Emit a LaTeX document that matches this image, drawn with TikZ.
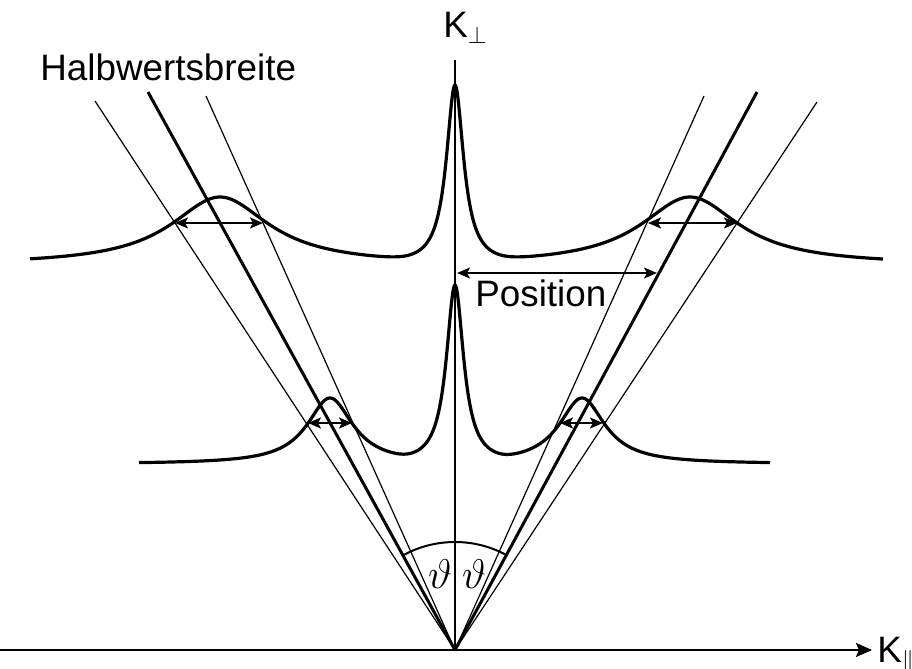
\documentclass[tikz,border=0pt]{standalone}
\usepackage{fontspec}
\setmainfont{Liberation Sans}
\usetikzlibrary{arrows.meta}
\begin{document}
\begin{tikzpicture}[x=0.5pt,y=-0.5pt,
  declare function={
    ua(\x)=18/(1+((\x-455)/10.5)^2);
    ub(\x)=6.8/(1+((\x-220)/60)^2);
    uc(\x)=6.8/(1+((\x-690)/60)^2);
    la(\x)=17.9/(1+((\x-455)/10.5)^2);
    lb(\x)=6.6/(1+((\x-330)/28)^2);
    lc(\x)=6.6/(1+((\x-582)/28)^2);
    up(\x)=265 - 10*(ua(\x)^3 + ub(\x)^3 + uc(\x)^3)^(1/3);
    lo(\x)=464 - 10*(la(\x)^3 + lb(\x)^3 + lc(\x)^3)^(1/3);
  },
  thinray/.style={line width=0.6pt},
  thickray/.style={line width=1.5pt},
  curve/.style={line width=1.6pt, line join=round},
  dbl/.style={line width=1pt, {Stealth[length=6.5pt,width=5.5pt,inset=1.5pt]}-{Stealth[length=6.5pt,width=5.5pt,inset=1.5pt]}},
  lbl/.style={font=\fontsize{18.4}{22}\selectfont, inner sep=0pt, anchor=base west},
  angl/.style={font=\fontsize{22}{26}\selectfont, inner sep=0pt}]
\useasboundingbox (0,0) rectangle (912,669);

% coordinates
\coordinate (O) at (455,650);
\coordinate (Top) at (455,60);
\coordinate (LT) at (148,92);
\coordinate (LO) at (95,101);
\coordinate (LI) at (206,96);
\coordinate (RT) at (757,92);
\coordinate (RI) at (704,96);
\coordinate (RO) at (817,102);
\coordinate (AxL) at (0,650);
\coordinate (AxR) at (872,650);

% rays
\draw[thinray] (O) -- (LO);
\draw[thinray] (O) -- (LI);
\draw[thinray] (O) -- (RI);
\draw[thinray] (O) -- (RO);
\draw[thickray] (O) -- (LT);
\draw[thickray] (O) -- (RT);
\draw[line width=1.4pt] (O) -- (Top);

% axis
\draw[line width=1.1pt, -{Stealth[length=8pt,width=7pt,inset=1.5pt]}] (AxL) -- (AxR);

% angle arc
\draw[line width=1pt] plot[domain=61.6:118.8, samples=60] ({455+108*cos(\x)},{650-108*sin(\x)});

% curves
\draw[curve] plot[domain=30:420,samples=300] (\x,{up(\x)})
  -- plot[domain=420:490,samples=141] (\x,{up(\x)})
  -- plot[domain=490:883,samples=300] (\x,{up(\x)});
\draw[curve] plot[domain=139:420,samples=250] (\x,{lo(\x)})
  -- plot[domain=420:490,samples=141] (\x,{lo(\x)})
  -- plot[domain=490:770,samples=250] (\x,{lo(\x)});

% width arrows
\coordinate (ua1) at (175,223); \coordinate (ua2) at (263,223);
\coordinate (ub1) at (648,223); \coordinate (ub2) at (737,223);
\coordinate (la1) at (308,423); \coordinate (la2) at (352,423);
\coordinate (lb1) at (560,423); \coordinate (lb2) at (603,423);
\coordinate (p1) at (457,273); \coordinate (p2) at (657,273);
\draw[dbl] (ua1) -- (ua2);
\draw[dbl] (ub1) -- (ub2);
\draw[dbl] (la1) -- (la2);
\draw[dbl] (lb1) -- (lb2);
\draw[dbl] (p1) -- (p2);

% labels
\node[lbl] (hw) at (40,80) {Halbwertsbreite};
\node[lbl] (pos) at (475,306) {Position};
\node[lbl] (kperp) at (443,38) {K$_{\perp}$};
\node[lbl] (kpar) at (877,662) {K$_{\parallel}$};
\node[angl] (nu1) at (440,574) {$\vartheta$};
\node[angl] (nu2) at (474,574) {$\vartheta$};
\end{tikzpicture}
\end{document}
